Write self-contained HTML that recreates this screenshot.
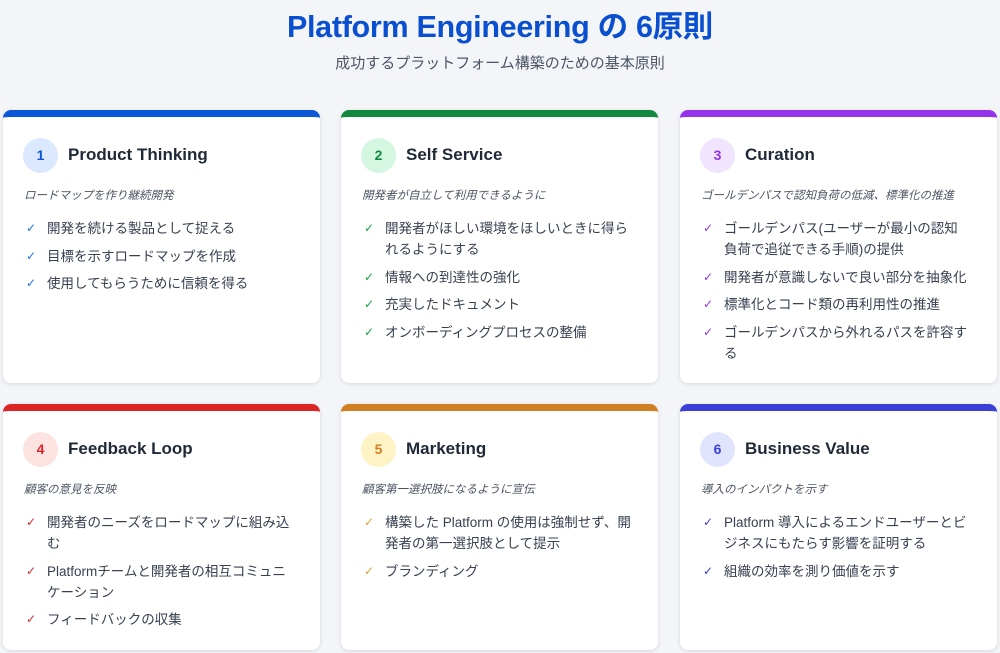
<!DOCTYPE html>
<html><head><meta charset="utf-8"><style>
*{margin:0;padding:0;box-sizing:border-box}
body{width:1000px;height:653px;background:#f3f5f8;font-family:"Liberation Sans","Noto Sans CJK JP",sans-serif;position:relative;overflow:hidden}
h1{position:absolute;top:2px;left:0;width:1000px;text-align:center;font-size:30.5px;font-weight:bold;color:#0a4fd0;letter-spacing:-0.3px}
.sub{position:absolute;top:52px;left:0;width:1000px;text-align:center;font-size:15px;color:#4b5563}
.card{position:absolute;width:317px;background:#fff;border-radius:8px;box-shadow:0 1px 4px rgba(0,0,0,0.12);overflow:hidden;border-top:7px solid}
.circ{position:absolute;left:20px;top:21px;width:35px;height:35px;border-radius:50%;text-align:center;line-height:35px;font-size:14px;font-weight:bold}
.t{position:absolute;left:65px;top:28px;font-size:17px;font-weight:bold;color:#1f2937}
.d{position:absolute;left:21px;top:70px;font-size:11.5px;font-style:italic;color:#4b5563}
ul{position:absolute;left:21px;top:101px;width:270px;list-style:none}
li{position:relative;padding-left:23px;font-size:13.5px;color:#374151;line-height:21px;margin-bottom:6.5px}
li:before{content:"✓";position:absolute;left:2px;top:0;font-size:12px;font-family:"DejaVu Sans",sans-serif}
</style></head><body>
<h1>Platform Engineering の 6原則</h1>
<div class="sub">成功するプラットフォーム構築のための基本原則</div>

<div class="card" style="left:3px;top:110px;height:273px;border-color:#0b57d8">
<div class="circ" style="background:#dbe8fd;color:#0b57d8">1</div><div class="t">Product Thinking</div>
<div class="d">ロードマップを作り継続開発</div>
<ul class="b"><li>開発を続ける製品として捉える</li><li>目標を示すロードマップを作成</li><li>使用してもらうために信頼を得る</li></ul></div>

<div class="card" style="left:341px;top:110px;height:273px;border-color:#12893f">
<div class="circ" style="background:#d5f7e2;color:#12893f">2</div><div class="t">Self Service</div>
<div class="d">開発者が自立して利用できるように</div>
<ul class="g"><li>開発者がほしい環境をほしいときに得られるようにする</li><li>情報への到達性の強化</li><li>充実したドキュメント</li><li>オンボーディングプロセスの整備</li></ul></div>

<div class="card" style="left:680px;top:110px;height:273px;border-color:#9333ea">
<div class="circ" style="background:#f0e4fe;color:#9333ea">3</div><div class="t">Curation</div>
<div class="d">ゴールデンパスで認知負荷の低減、標準化の推進</div>
<ul class="p"><li>ゴールデンパス(ユーザーが最小の認知負荷で追従できる手順)の提供</li><li>開発者が意識しないで良い部分を抽象化</li><li>標準化とコード類の再利用性の推進</li><li>ゴールデンパスから外れるパスを許容する</li></ul></div>

<div class="card" style="left:3px;top:404px;height:246px;border-color:#dc2626">
<div class="circ" style="background:#fde2e2;color:#dc2626">4</div><div class="t">Feedback Loop</div>
<div class="d">顧客の意見を反映</div>
<ul class="r"><li>開発者のニーズをロードマップに組み込む</li><li>Platformチームと開発者の相互コミュニケーション</li><li>フィードバックの収集</li></ul></div>

<div class="card" style="left:341px;top:404px;height:246px;border-color:#d07f22">
<div class="circ" style="background:#fdf3c4;color:#d07f22">5</div><div class="t">Marketing</div>
<div class="d">顧客第一選択肢になるように宣伝</div>
<ul class="o"><li>構築した Platform の使用は強制せず、開発者の第一選択肢として提示</li><li>ブランディング</li></ul></div>

<div class="card" style="left:680px;top:404px;height:246px;border-color:#3b3fd8">
<div class="circ" style="background:#e0e5fd;color:#3b3fd8">6</div><div class="t">Business Value</div>
<div class="d">導入のインパクトを示す</div>
<ul class="i"><li>Platform 導入によるエンドユーザーとビジネスにもたらす影響を証明する</li><li>組織の効率を測り価値を示す</li></ul></div>
<style>
.b li:before{color:#1d74e6}
.g li:before{color:#16a34a}.p li:before{color:#9333ea}.r li:before{color:#dc2626}.o li:before{color:#e3a030}.i li:before{color:#3b3fd8}
</style>
</body></html>
